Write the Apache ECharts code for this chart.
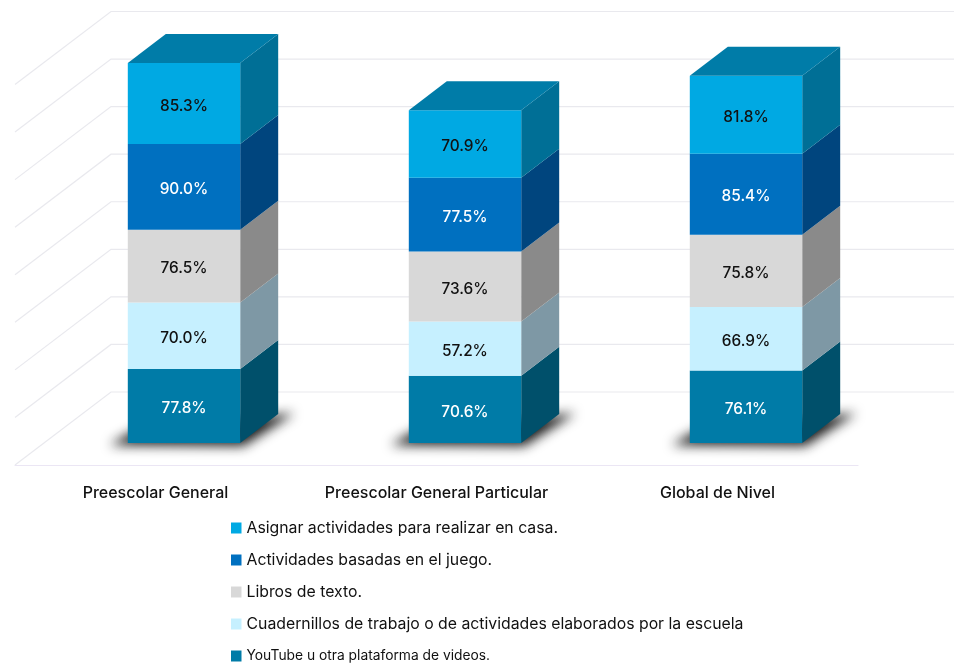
<!DOCTYPE html>
<html>
<head>
<meta charset="utf-8">
<style>
  html, body { margin: 0; padding: 0; background: #fff; }
  #chart { width: 960px; height: 663px; }
</style>
</head>
<body>
<div id="chart"></div>
<script src="https://cdn.jsdelivr.net/npm/echarts@6/dist/echarts.min.js"></script>
<script>
var categories = ["Preescolar General", "Preescolar General Particular", "Global de Nivel"];
var youtube = [77.8, 70.6, 76.1];
var cuadernillos = [70.0, 57.2, 66.9];
var libros = [76.5, 73.6, 75.8];
var actividades = [90.0, 77.5, 85.4];
var asignar = [85.3, 70.9, 81.8];
var wallTicks = [0, 50, 100, 150, 200, 250, 300, 350, 400];

var FONT = "Inter";
var WALL_X = 96, WALL_Y = -73;   // back wall offset from front floor edge
var BAR_X = 28.5, BAR_Y = -22;   // bar front plane offset
var DEPTH_X = 38, DEPTH_Y = -29; // bar depth
var SHADOW_SHIFT = 2000;         // shape sits off canvas, only its blur lands on the floor

var layers = [
  { name: "YouTube u otra plataforma de videos.", data: youtube, front: "#007ba7", side: "#00506b", label: "#ffffff" },
  { name: "Cuadernillos de trabajo o de actividades elaborados por la escuela", data: cuadernillos, front: "#c6f0ff", side: "#7e98a5", label: "#111111" },
  { name: "Libros de texto.", data: libros, front: "#d8d8d8", side: "#8a8a8a", label: "#111111" },
  { name: "Actividades basadas en el juego.", data: actividades, front: "#0070c0", side: "#00457e", label: "#ffffff" },
  { name: "Asignar actividades para realizar en casa.", data: asignar, front: "#00a9e3", side: "#006f96", label: "#111111" }
];

// sum of the layers below, per category
function baseOf(layerIdx, catIdx) {
  var s = 0;
  for (var i = 0; i < layerIdx; i++) s += layers[i].data[catIdx];
  return s;
}

function renderWall(params, api) {
  var p = api.coord([0, api.value(0)]);
  var cs = params.coordSys;
  var y = p[1];
  return {
    type: "polyline",
    shape: { points: [[cs.x, y], [cs.x + WALL_X, y + WALL_Y], [cs.x + cs.width + WALL_X, y + WALL_Y]] },
    style: { stroke: "#e9e9ee", lineWidth: 1.2, fill: null }
  };
}

function renderShadow(params, api) {
  var c = api.coord([api.value(0), 0]);
  var w = api.size([1, 0])[0] * 0.4;
  var x0 = c[0] + BAR_X - w / 2 - SHADOW_SHIFT, x1 = x0 + w, y0 = c[1] + BAR_Y;
  return {
    type: "polygon",
    shape: { points: [[x0 - 18, y0 + 2], [x0 + 6, y0 - 12], [x1 + DEPTH_X + 16, y0 + DEPTH_Y - 1], [x1 + 3, y0 + 3]] },
    style: { fill: "#000", shadowBlur: 12, shadowOffsetX: SHADOW_SHIFT, shadowColor: "rgba(15,15,15,0.95)" }
  };
}

function makeRender(layerIdx) {
  return function (params, api) {
    var cat = api.value(0);
    var layer = layers[layerIdx];
    var base = baseOf(layerIdx, cat);
    var bottom = api.coord([cat, base]);
    var top = api.coord([cat, base + layer.data[cat]]);
    var w = api.size([1, 0])[0] * 0.4;
    var x0 = bottom[0] + BAR_X - w / 2, x1 = x0 + w;
    var yb = bottom[1] + BAR_Y, yt = top[1] + BAR_Y;
    var children = [
      { type: "polygon", shape: { points: [[x1, yt], [x1 + DEPTH_X, yt + DEPTH_Y], [x1 + DEPTH_X, yb + DEPTH_Y], [x1, yb]] }, style: { fill: layer.side } },
      { type: "rect", shape: { x: x0, y: yt, width: w, height: yb - yt }, style: { fill: layer.front } }
    ];
    if (layerIdx === layers.length - 1) {
      children.push({ type: "polygon", shape: { points: [[x0, yt], [x0 + DEPTH_X, yt + DEPTH_Y], [x1 + DEPTH_X, yt + DEPTH_Y], [x1, yt]] }, style: { fill: "#007ca8" } });
    }
    children.push({
      type: "text",
      style: {
        x: (x0 + x1) / 2, y: (yt + yb) / 2 + 2.5,
        text: layer.data[cat].toFixed(1) + "%",
        fill: layer.label, font: "500 15.4px " + FONT,
        align: "center", verticalAlign: "middle"
      }
    });
    return { type: "group", children: children };
  };
}

var series = [
  { type: "custom", name: "wall", data: wallTicks.map(function (v) { return [v]; }), renderItem: renderWall, silent: true, clip: false },
  { type: "custom", name: "shadow", data: categories.map(function (c, i) { return [i]; }), renderItem: renderShadow, silent: true, clip: false }
];
layers.forEach(function (layer, i) {
  series.push({
    type: "custom",
    name: layer.name,
    itemStyle: { color: layer.front },
    data: categories.map(function (c, k) { return [k]; }),
    renderItem: makeRender(i),
    clip: false
  });
});

var legendData = layers.slice().reverse().map(function (l, i) {
  var item = { name: l.name, icon: "rect" };
  if (i === 4) item.textStyle = { fontSize: 13.8, lineHeight: 20 };
  return item;
});

var myChart = echarts.init(document.getElementById("chart"));
myChart.setOption({
  animation: false,
  backgroundColor: "#ffffff",
  grid: { left: 15, width: 843, top: 84.5, height: 380.5 },
  xAxis: {
    type: "category",
    data: categories,
    axisLine: { lineStyle: { color: "#ebe6f4", width: 1.2 } },
    axisTick: { show: false },
    axisLabel: { interval: 0, margin: 20, color: "#111111", fontFamily: FONT, fontSize: 16, fontWeight: 500 }
  },
  yAxis: { type: "value", min: 0, max: 400, interval: 50, show: false, splitLine: { show: false } },
  legend: {
    orient: "vertical",
    left: 231,
    top: 518,
    padding: 0,
    height: 150,
    itemWidth: 10.5,
    itemHeight: 11,
    itemGap: 12,
    textStyle: { color: "#111111", fontFamily: FONT, fontSize: 15.8, lineHeight: 20 },
    data: legendData
  },
  series: series
});
</script>
</body>
</html>
